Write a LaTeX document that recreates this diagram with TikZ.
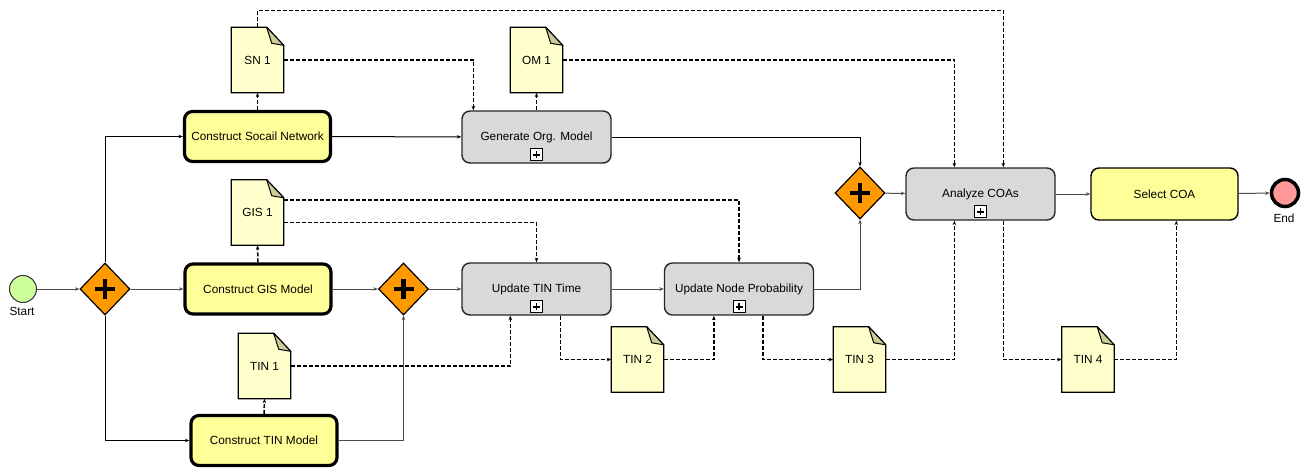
\documentclass[tikz,border=0pt]{standalone}
\usepackage{fontspec}
\setmainfont{Liberation Sans}
\usetikzlibrary{shapes.geometric,arrows.meta,calc}
\definecolor{taskyellow}{HTML}{FFFF99}
\definecolor{taskgray}{HTML}{D9D9D9}
\definecolor{docfill}{HTML}{FFFFCC}
\definecolor{foldfill}{HTML}{CCCC99}
\definecolor{gwfill}{HTML}{FF9900}
\definecolor{startfill}{HTML}{CCFF99}
\definecolor{endfill}{HTML}{FF9999}
\tikzset{
  lbl/.style={font=\fontsize{11.8}{13}\selectfont},
  ytask/.style={lbl, rectangle, rounded corners=8pt, draw=black, line width=3.2pt, fill=taskyellow, minimum width=146pt, minimum height=50pt, inner sep=0pt},
  ytaskthin/.style={lbl, rectangle, rounded corners=8pt, draw=black, line width=1.4pt, fill=taskyellow, minimum width=147pt, minimum height=52pt, inner sep=0pt},
  gtask/.style={lbl, rectangle, rounded corners=8pt, draw=black!85, line width=1.4pt, fill=taskgray, minimum width=149pt, minimum height=52pt, inner sep=0pt},
  marker/.style={rectangle, draw=black, line width=0.9pt, fill=white, minimum width=12pt, minimum height=12pt, inner sep=0pt,
     path picture={\draw[line width=1.6pt] ([xshift=-3.5pt]path picture bounding box.center) -- ([xshift=3.5pt]path picture bounding box.center);
                   \draw[line width=1.6pt] ([yshift=-3.5pt]path picture bounding box.center) -- ([yshift=3.5pt]path picture bounding box.center);}},
  docbox/.style={lbl, rectangle, minimum width=52pt, minimum height=65pt, inner sep=0pt},
  docline/.style={draw=black, line width=1.3pt, fill=docfill, line join=miter},
  gateway/.style={diamond, shape aspect=1, draw=black, line width=1.2pt, fill=gwfill, minimum width=50pt, minimum height=52pt, inner sep=0pt,
     path picture={\draw[line width=4.6pt] ([xshift=-10pt]path picture bounding box.center) -- ([xshift=10pt]path picture bounding box.center);
                   \draw[line width=4.6pt] ([yshift=-10pt]path picture bounding box.center) -- ([yshift=10pt]path picture bounding box.center);}},
  startev/.style={circle, draw=black!80, line width=1pt, fill=startfill, minimum size=27pt, inner sep=0pt},
  endev/.style={circle, draw=black, line width=3.5pt, fill=endfill, minimum size=27pt, inner sep=0pt},
  flow/.style={draw=black!70, line width=1pt, -{Stealth[length=4.5pt,width=3.5pt]}},
  assoc/.style={draw=black, line width=1.5pt, dash pattern=on 4pt off 2pt, -{Stealth[length=4.5pt,width=3.5pt]}},
}
\newcommand\docnode[3]{%
  \node[docbox] (#1) at (#2) {};
  \path[docline] (#1.south west) -- (#1.north west) -- ([xshift=-17pt]#1.north east) -- ([yshift=-18pt]#1.north east) -- (#1.south east) -- cycle;
  \path[draw=black, line width=1pt, fill=foldfill, line join=round] ([xshift=-17pt]#1.north east) -- ([xshift=-12pt,yshift=-16pt]#1.north east) -- ([yshift=-18pt]#1.north east) -- cycle;
  \node[lbl] at (#1.center) {#3};
}
\begin{document}
\begin{tikzpicture}[x=1pt,y=-1pt]
\useasboundingbox (0,0) rectangle (1303,469);
% events
\node[startev] (start) at (23,289) {};
\node[lbl, anchor=north] (startlbl) at (22,304) {Start};
\node[endev] (end) at (1285,193) {};
\node[lbl, anchor=north] (endlbl) at (1284,210) {End};
% gateways
\node[gateway] (gw1) at (105,289) {};
\node[gateway] (gw2) at (403.5,289) {};
\node[gateway] (gw3) at (860,193) {};
% tasks
\node[ytask] (csn) at (257.5,136.5) {Construct Socail Network};
\node[ytask] (cgis) at (258,289) {Construct GIS Model};
\node[ytask] (ctin) at (264,440.5) {Construct TIN Model};
\node[gtask] (gom) at (536.5,137) {Generate Org. Model};
\node[gtask] (utt) at (536.5,289) {Update TIN Time};
\node[gtask] (unp) at (739,289) {Update Node Probability};
\node[gtask] (aca) at (980.5,194) {Analyze COAs};
\node[ytaskthin] (sco) at (1164.5,194) {Select COA};
% markers
\node[marker] (gomm) at ([yshift=9pt]gom.south) {};
\node[marker] (uttm) at ([yshift=9pt]utt.south) {};
\node[marker] (unpm) at ([yshift=9pt]unp.south) {};
\node[marker] (acam) at ([yshift=9pt]aca.south) {};
% data objects
\docnode{sn1}{257.5,60}{SN 1}
\docnode{om1}{536.5,60}{OM 1}
\docnode{gis1}{257.5,212.5}{GIS 1}
\docnode{tin1}{264.5,366}{TIN 1}
\docnode{tin2}{637.5,359.5}{TIN 2}
\docnode{tin3}{859.5,359.5}{TIN 3}
\docnode{tin4}{1088,359.5}{TIN 4}
% sequence flows
\draw[flow] (start) -- (gw1);
\draw[flow] (gw1) -- (cgis);
\draw[flow, draw=black] (gw1.north) |- (csn.west);
\draw[flow, draw=black] (gw1.south) |- (ctin.west);
\draw[flow, draw=black] (csn) -- (gom);
\draw[flow] (cgis) -- (gw2);
\draw[flow] (ctin.east) -| (gw2.south);
\draw[flow] (gw2) -- (utt);
\draw[flow] (utt) -- (unp);
\draw[flow] (unp.east) -| (gw3.south);
\draw[flow, draw=black] (gom.east) -| (gw3.north);
\draw[flow] (gw3) -- (aca);
\draw[flow] (aca) -- (sco);
\draw[flow] (sco) -- (end);
% associations
\draw[assoc] (csn.north) -- (sn1.south);
\draw[assoc] (cgis.north) -- (gis1.south);
\draw[assoc] (ctin.north) -- (tin1.south);
\draw[assoc] (gom.north) -- (om1.south);
\draw[assoc] (sn1.east) -| ([xshift=12pt]gom.north west);
\draw[assoc] (sn1.north) -- ++(0,-17) -| ([xshift=98pt]aca.north west);
\draw[assoc] (om1.east) -| ([xshift=49pt]aca.north west);
\draw[assoc] ([yshift=-20pt]gis1.north east) -| (unp.north);
\draw[assoc] ([yshift=-10pt]gis1.east) -| (utt.north);
\draw[assoc] (tin1.east) -| ([xshift=49pt]utt.south west);
\draw[assoc] ([xshift=99pt]utt.south west) |- (tin2.west);
\draw[assoc] (tin2.east) -| ([xshift=50pt]unp.south west);
\draw[assoc] ([xshift=99pt]unp.south west) |- (tin3.west);
\draw[assoc] (tin3.east) -| ([xshift=49pt]aca.south west);
\draw[assoc] ([xshift=98pt]aca.south west) |- (tin4.west);
\draw[assoc] (tin4.east) -| ([xshift=86pt]sco.south west);
\end{tikzpicture}
\end{document}
